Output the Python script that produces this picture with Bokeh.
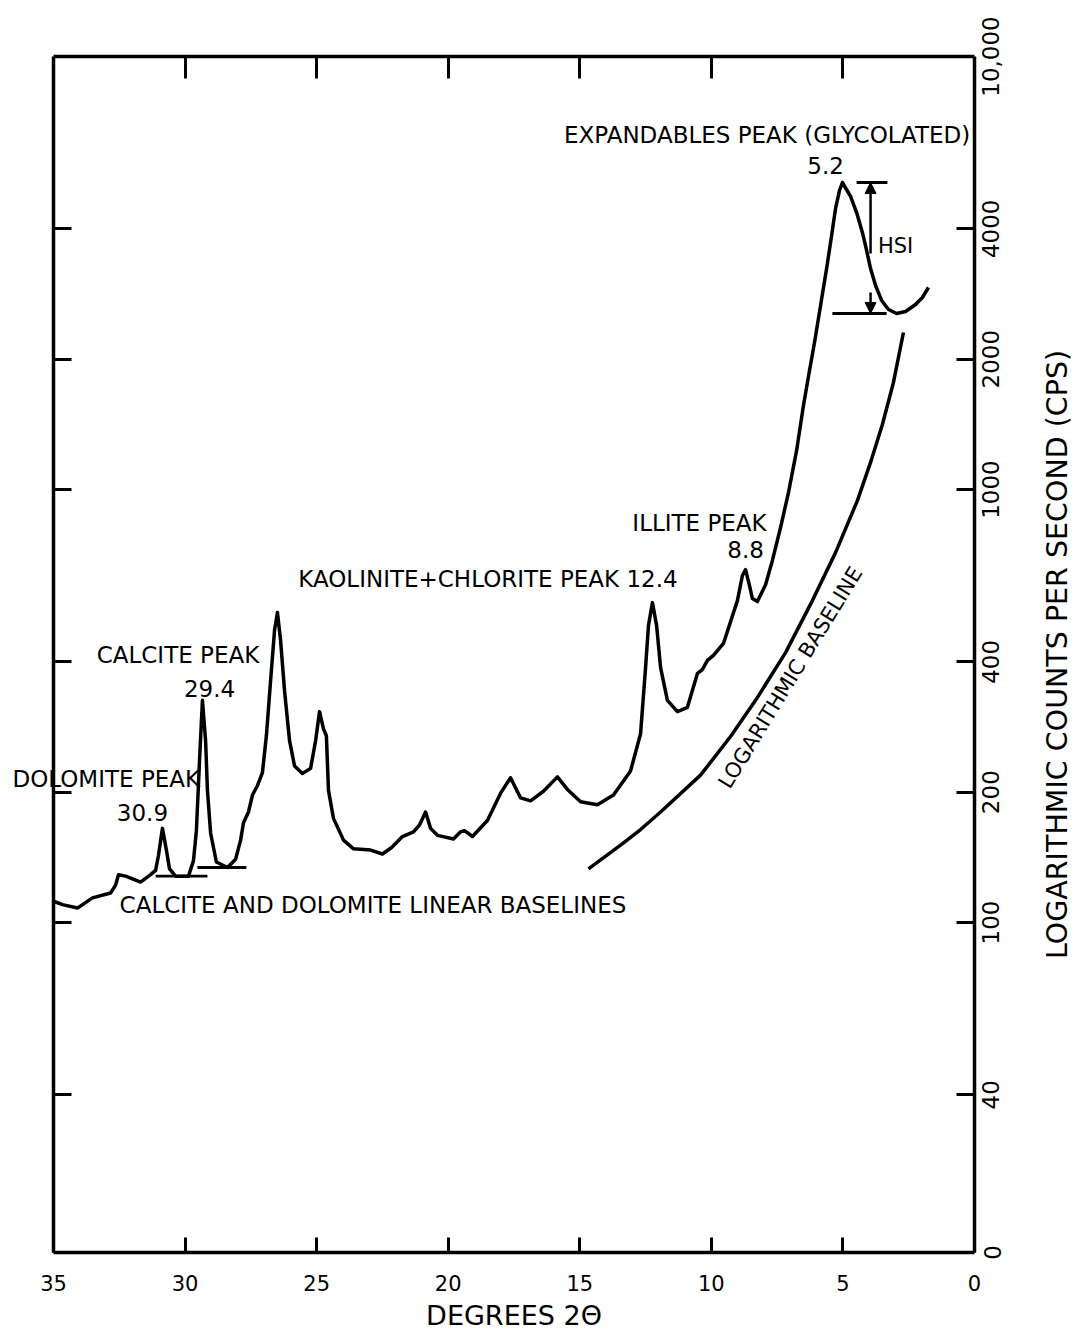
import math
from bokeh.plotting import figure
from bokeh.models import (Range1d, FixedTicker, LinearAxis, LogAxis, Label,
                          Arrow, NormalHead)
from bokeh.embed import file_html
from bokeh.resources import INLINE

# ---------------- data ----------------
two_theta = [35.00, 34.66, 34.09, 33.52, 32.83, 32.64, 32.53, 32.26, 31.69, 31.31,
             31.12, 31.01, 30.86, 30.71, 30.59, 30.36, 29.87, 29.68, 29.57, 29.45,
             29.34, 29.22, 29.15, 29.03, 28.81, 28.39, 28.08, 27.89, 27.78, 27.59,
             27.44, 27.25, 27.06, 26.91, 26.75, 26.60, 26.49, 26.37, 26.22, 26.03,
             25.84, 25.54, 25.23, 25.04, 24.89, 24.74, 24.63, 24.55, 24.36, 23.98,
             23.60, 22.95, 22.50, 22.15, 21.74, 21.32, 21.09, 20.86, 20.67, 20.41,
             19.80, 19.53, 19.38, 19.08, 18.51, 18.01, 17.63, 17.25, 16.87, 16.38,
             15.85, 15.47, 14.97, 14.33, 13.72, 13.07, 12.69, 12.50, 12.39, 12.24,
             12.08, 11.93, 11.67, 11.29, 10.91, 10.53, 10.34, 10.15, 9.92, 9.54,
             9.01, 8.82, 8.70, 8.55, 8.44, 8.25, 7.94, 7.68, 7.37, 7.07,
             6.76, 6.50, 6.27, 6.08, 5.85, 5.62, 5.43, 5.28, 5.13, 5.02,
             4.71, 4.48, 4.26, 4.10, 3.95, 3.76, 3.53, 3.27, 2.96, 2.62,
             2.24, 1.98, 1.75]
cps = [112, 110, 108, 114, 117, 122, 129, 128, 124, 129,
       132, 143, 165, 147, 133, 128, 128, 139, 163, 237,
       326, 263, 202, 161, 138, 134, 140, 155, 170, 180,
       197, 207, 222, 270, 362, 473, 520, 448, 343, 263,
       230, 221, 227, 263, 307, 280, 270, 202, 174, 155,
       148, 147, 144, 149, 158, 162, 168, 180, 165, 159,
       156, 162, 163, 158, 172, 199, 216, 194, 191, 201,
       217, 203, 190, 187, 197, 224, 273, 388, 485, 548,
       485, 388, 326, 307, 314, 376, 384, 403, 414, 441,
       554, 633, 653, 600, 560, 551, 603, 686, 817, 984,
       1231, 1563, 1883, 2185, 2660, 3238, 3861, 4457, 4904, 5117,
       4751, 4362, 3923, 3565, 3238, 2959, 2733, 2604, 2550, 2577,
       2675, 2776, 2928]

log_base_2theta = [14.67, 13.45, 12.69, 11.93, 10.41, 9.27, 8.32, 7.18, 6.16, 5.28,
                   4.45, 3.95, 3.50, 3.08, 2.70]
log_base_cps = [133, 151, 164, 180, 219, 269, 326, 420, 554, 715,
                943, 1155, 1413, 1767, 2305]

dol_base_2theta = [31.12, 29.15]
dol_base_cps = [128, 128]
cal_base_2theta = [29.53, 27.67]
cal_base_cps = [134, 134]

hsi_2theta = 3.95
hsi_peak_cps = 5117
hsi_base_cps = 2550
hsi_top_bar = [4.48, 3.31]
hsi_bottom_bar = [5.40, 3.34]

x_ticks = [35, 30, 25, 20, 15, 10, 5, 0]
x_top_ticks = [30, 25, 20, 15, 10, 5]
y_min = 17.3
y_ticks = [40, 100, 200, 400, 1000, 2000, 4000, 10000]
y_tick_labels = ["40", "100", "200", "400", "1000", "2000", "4000", "10,000"]
y_min_label = "0"
y_inner_ticks = [40, 100, 200, 400, 1000, 2000, 4000]

FONT = "DejaVu Sans"
LW = 3.5
W, H = 1075, 1342
BL, BR, BT, BB = 53, 101, 56, 90

# ---------------- figure ----------------
p = figure(width=W, height=H,
           x_range=Range1d(35, 0), y_range=Range1d(y_min, 10000),
           y_axis_type="log", x_axis_location=None, y_axis_location=None,
           output_backend="svg", toolbar_location=None,
           min_border_left=BL, min_border_right=BR,
           min_border_top=BT, min_border_bottom=BB)
p.grid.visible = False
p.outline_line_color = None
p.background_fill_color = "white"
p.border_fill_color = "white"

xb = LinearAxis(ticker=FixedTicker(ticks=x_ticks), axis_label="DEGREES 2Θ")
xt = LinearAxis(ticker=FixedTicker(ticks=x_top_ticks))
yr = LogAxis(ticker=FixedTicker(ticks=y_inner_ticks))
yl = LogAxis(ticker=FixedTicker(ticks=y_inner_ticks))

for ax in (xb, xt, yr, yl):
    ax.axis_line_width = LW
    ax.axis_line_color = "black"
    ax.major_tick_line_width = 3
    ax.major_tick_line_color = "black"
    ax.major_tick_out = 0
    ax.minor_tick_line_color = None
    ax.major_label_text_font = FONT
    ax.major_label_text_color = "black"
    ax.axis_label_text_font = FONT
    ax.axis_label_text_font_style = "normal"
    ax.axis_label_text_color = "black"

xb.major_tick_in = 15
xb.major_label_text_font_size = "21px"
xb.major_label_standoff = 22
xb.axis_label_text_font_size = "27px"
xb.axis_label_standoff = 6

# tick-only frame sides: no labels drawn
for ax in (xt, yl, yr):
    ax.major_label_text_font_size = "0px"
    ax.major_label_text_color = None
    ax.major_label_standoff = 0
xt.major_tick_in = 22
yl.major_tick_in = 18
yr.major_tick_in = 18

# Right-hand tick labels read bottom-to-top. Bokeh anchors rotated labels at
# their start, so each label is anchored half its length below its tick.
LABEL_PX = 23
PX_PER_DECADE = (H - BT - BB) / (4 - math.log10(y_min))


def half_len_px(s):
    return sum(0.318 if c == "," else 0.636 for c in s) * LABEL_PX / 2


anchor_ticks = [t * 10 ** (-half_len_px(s) / PX_PER_DECADE)
                for t, s in zip(y_ticks, y_tick_labels)]
yr_lab = LogAxis(ticker=FixedTicker(ticks=anchor_ticks),
                 major_label_overrides=dict(zip(anchor_ticks, y_tick_labels)))
yr_lab.axis_line_color = None
yr_lab.major_tick_line_color = None
yr_lab.minor_tick_line_color = None
yr_lab.major_tick_in = 0
yr_lab.major_tick_out = 0
yr_lab.major_label_standoff = 16
yr_lab.major_label_orientation = math.pi / 2
yr_lab.major_label_text_font = FONT
yr_lab.major_label_text_font_size = f"{LABEL_PX}px"
yr_lab.major_label_text_color = "black"

p.add_layout(xb, "below")
p.add_layout(xt, "above")
p.add_layout(yl, "left")
p.add_layout(yr, "right")
p.add_layout(yr_lab, "right")

# ---------------- curves ----------------
p.line(two_theta, cps, line_width=LW, color="black", line_join="round")
p.line(log_base_2theta, log_base_cps, line_width=LW, color="black")
p.line(dol_base_2theta, dol_base_cps, line_width=2.8, color="black")
p.line(cal_base_2theta, cal_base_cps, line_width=2.8, color="black")

# HSI marker
p.line(hsi_top_bar, [hsi_peak_cps, hsi_peak_cps], line_width=2.8, color="black")
p.line(hsi_bottom_bar, [hsi_base_cps, hsi_base_cps], line_width=2.8, color="black")
p.add_layout(Arrow(end=NormalHead(size=11, fill_color="black", line_color="black"),
                   x_start=hsi_2theta, y_start=3508, x_end=hsi_2theta, y_end=hsi_peak_cps,
                   line_width=2.5, line_color="black"))
p.add_layout(Arrow(end=NormalHead(size=11, fill_color="black", line_color="black"),
                   x_start=hsi_2theta, y_start=2851, x_end=hsi_2theta, y_end=hsi_base_cps,
                   line_width=2.5, line_color="black"))

# ---------------- annotations ----------------
def note(x, y, text, align="center", size="23px", angle=0.0, place=None):
    lab = Label(x=x, y=y, text=text, text_font=FONT, text_font_size=size,
                text_align=align, text_baseline="middle", text_color="black",
                angle=angle)
    if place is None:
        p.add_layout(lab)
    else:
        p.add_layout(lab, place)   # side panel: drawn without frame clipping

# texts lying outside the frame
note(-3.16, 416, "LOGARITHMIC COUNTS PER SECOND (CPS)", size="28.5px",
     angle=math.pi / 2, place="right")
note(-0.68, y_min, y_min_label, size="23px", angle=math.pi / 2, place="left")
note(36.56, 215, "DOLOMITE PEAK", align="left", place="above")

note(31.62, 179.5, "30.9")
note(30.27, 414, "CALCITE PEAK")
note(29.07, 347, "29.4")
note(22.86, 109.5, "CALCITE AND DOLOMITE LINEAR BASELINES")
note(18.49, 620, "KAOLINITE+CHLORITE PEAK 12.4")
note(10.45, 835, "ILLITE PEAK")
note(8.70, 727, "8.8")
note(7.88, 6570, "EXPANDABLES PEAK (GLYCOLATED)")
note(5.66, 5602, "5.2")
note(3.00, 3660, "HSI", size="21px")
note(6.99, 368, "LOGARITHMIC BASELINE", size="21px", angle=1.021)

open("out.html", "w").write(file_html(p, INLINE))
